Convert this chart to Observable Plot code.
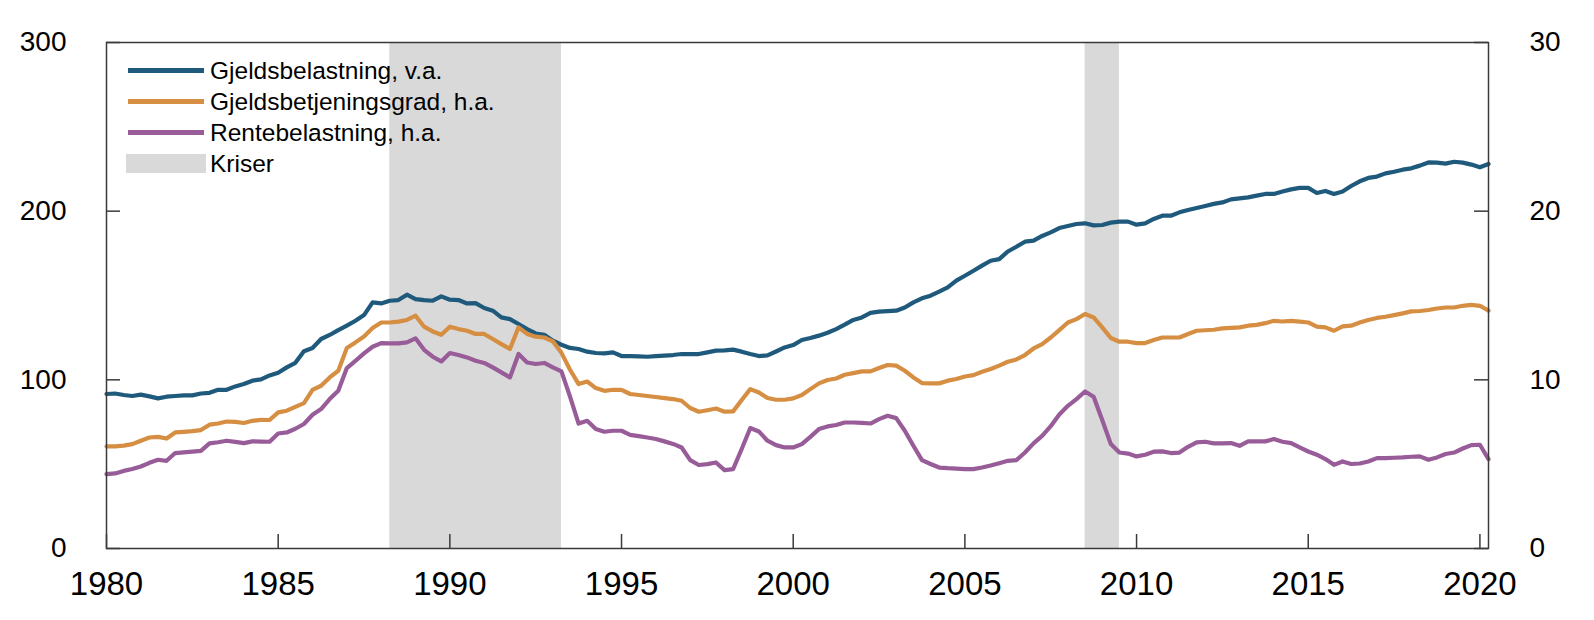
<!DOCTYPE html>
<html>
<head>
<meta charset="utf-8">
<script src="https://cdn.jsdelivr.net/npm/d3@7"></script>
<script src="https://cdn.jsdelivr.net/npm/@observablehq/plot@0.6"></script>
<style>
  html, body { margin: 0; padding: 0; background: #fff; overflow: hidden; }
  #wrap { position: relative; width: 1594px; height: 620px; overflow: hidden; font-family: "Liberation Sans", Arial, Helvetica, sans-serif; }
  #chart svg { display: block; max-width: none !important; width: 1594px; height: 620px; }
  #legend { position: absolute; left: 126px; top: 55px; color: #000; font-size: 24.5px; }
  .row { display: flex; align-items: center; height: 31px; }
  .sw { width: 80px; display: flex; align-items: center; justify-content: center; }
  .ln { width: 76px; height: 4.5px; }
  .bx { width: 80px; height: 19px; background: #d9d9d9; }
  .lab { margin-left: 4px; white-space: nowrap; }
</style>
</head>
<body>
<div id="wrap">
  <div id="chart"></div>
  <div id="legend"></div>
</div>
<script>
// ---- data ----
const years = [1980,1981,1982,1983,1984,1985,1986,1987,1988,1989,1990,1991,1992,1993,1994,1995,1996,1997,1998,1999,2000,2001,2002,2003,2004,2005,2006,2007,2008,2009,2010,2011,2012,2013,2014,2015,2016,2017,2018,2019,2020];
const quarterOffsets = [0, 0.25, 0.5, 0.75];

// Gjeldsbelastning (v.a., prosent), kvartalsvis 1980K1-2020K2
const gjeldsbelastning = [
  91.6, 91.9, 91.0, 90.4,
  91.2, 90.2, 89.0, 90.0,
  90.4, 90.8, 90.8, 91.9,
  92.3, 94.1, 94.1, 96.1,
  97.5, 99.5, 100.3, 102.6,
  104.2, 107.4, 110.1, 117.0,
  118.9, 124.2, 126.6, 129.5,
  132.1, 135.0, 138.4, 145.9,
  145.3, 146.9, 147.3, 150.5,
  147.9, 147.3, 146.9, 149.5,
  147.5, 147.3, 145.3, 145.5,
  142.6, 141.0, 137.0, 136.0,
  133.1, 130.1, 127.5, 126.7,
  123.2, 120.8, 118.9, 118.3,
  116.7, 115.9, 115.7, 116.3,
  114.1, 114.0, 113.9, 113.7,
  114.0, 114.3, 114.7, 115.3,
  115.3, 115.3, 116.3, 117.3,
  117.5, 117.9, 116.7, 115.3,
  114.1, 114.5, 116.8, 119.2,
  120.6, 123.6, 124.8, 126.2,
  127.9, 130.1, 132.7, 135.5,
  137.0, 139.7, 140.4, 140.7,
  141.0, 142.9, 145.9, 148.3,
  149.9, 152.3, 154.8, 158.8,
  161.7, 164.7, 167.7, 170.6,
  171.6, 176.1, 178.9, 181.9,
  182.5, 185.3, 187.4, 190.0,
  191.2, 192.4, 192.8, 191.6,
  191.8, 193.2, 193.8, 193.8,
  192.0, 192.8, 195.4, 197.3,
  197.3, 199.3, 200.7, 201.9,
  203.1, 204.3, 205.2, 207.0,
  207.6, 208.2, 209.2, 210.2,
  210.2, 211.7, 212.9, 213.8,
  213.8, 210.8, 212.0, 210.2,
  211.7, 214.9, 217.7, 219.7,
  220.5, 222.4, 223.4, 224.6,
  225.4, 227.0, 228.9, 228.8,
  228.2, 229.3, 228.8, 227.6,
  226.0, 228.0
];

// Gjeldsbetjeningsgrad (h.a., prosent)
const gjeldsbetjeningsgrad = [
  6.05, 6.05, 6.10, 6.19,
  6.39, 6.58, 6.62, 6.52,
  6.88, 6.92, 6.96, 7.02,
  7.34, 7.41, 7.53, 7.51,
  7.44, 7.57, 7.63, 7.62,
  8.07, 8.17, 8.40, 8.62,
  9.41, 9.65, 10.14, 10.54,
  11.89, 12.22, 12.57, 13.07,
  13.40, 13.40, 13.45, 13.55,
  13.80, 13.15, 12.87, 12.67,
  13.15, 13.01, 12.91, 12.72,
  12.72, 12.42, 12.12, 11.83,
  13.11, 12.72, 12.56, 12.51,
  12.28, 11.60, 10.60, 9.75,
  9.90, 9.51, 9.35, 9.41,
  9.41, 9.16, 9.10, 9.04,
  8.98, 8.92, 8.86, 8.76,
  8.33, 8.11, 8.20, 8.30,
  8.11, 8.13, 8.80, 9.45,
  9.25, 8.92, 8.82, 8.82,
  8.90, 9.10, 9.45, 9.79,
  9.99, 10.08, 10.30, 10.40,
  10.50, 10.50, 10.70, 10.88,
  10.84, 10.54, 10.14, 9.81,
  9.79, 9.79, 9.95, 10.05,
  10.20, 10.28, 10.48, 10.64,
  10.84, 11.07, 11.21, 11.47,
  11.86, 12.12, 12.51, 12.95,
  13.40, 13.60, 13.90, 13.70,
  13.11, 12.48, 12.26, 12.26,
  12.18, 12.18, 12.36, 12.51,
  12.51, 12.51, 12.72, 12.91,
  12.94, 12.97, 13.05, 13.08,
  13.11, 13.21, 13.26, 13.36,
  13.50, 13.46, 13.50, 13.45,
  13.40, 13.15, 13.11, 12.91,
  13.17, 13.21, 13.40, 13.55,
  13.67, 13.74, 13.84, 13.94,
  14.06, 14.08, 14.14, 14.23,
  14.29, 14.29, 14.39, 14.44,
  14.39, 14.10
];

// Rentebelastning (h.a., prosent)
const rentebelastning = [
  4.41, 4.45, 4.60, 4.71,
  4.86, 5.08, 5.26, 5.20,
  5.66, 5.70, 5.74, 5.79,
  6.23, 6.30, 6.39, 6.32,
  6.25, 6.35, 6.34, 6.33,
  6.82, 6.88, 7.10, 7.38,
  7.93, 8.27, 8.86, 9.35,
  10.70, 11.13, 11.57, 11.96,
  12.18, 12.16, 12.16, 12.22,
  12.46, 11.78, 11.37, 11.09,
  11.59, 11.47, 11.33, 11.13,
  11.00, 10.74, 10.44, 10.14,
  11.53, 11.03, 10.94, 11.00,
  10.74, 10.50, 9.00, 7.41,
  7.57, 7.08, 6.92, 6.98,
  6.98, 6.74, 6.66, 6.58,
  6.49, 6.35, 6.20, 5.99,
  5.24, 4.95, 5.00, 5.10,
  4.65, 4.71, 5.90, 7.14,
  6.94, 6.39, 6.13, 5.99,
  5.99, 6.19, 6.62, 7.08,
  7.24, 7.32, 7.47, 7.47,
  7.45, 7.41, 7.67, 7.87,
  7.73, 6.98, 6.09, 5.24,
  5.01, 4.80, 4.76, 4.74,
  4.71, 4.71, 4.80, 4.92,
  5.06, 5.20, 5.24, 5.69,
  6.23, 6.68, 7.25, 7.95,
  8.46, 8.86, 9.31, 9.00,
  7.62, 6.19, 5.69, 5.63,
  5.46, 5.56, 5.74, 5.76,
  5.66, 5.69, 6.03, 6.29,
  6.33, 6.23, 6.23, 6.25,
  6.09, 6.35, 6.35, 6.35,
  6.49, 6.33, 6.25, 5.99,
  5.75, 5.56, 5.30, 4.96,
  5.16, 5.01, 5.04, 5.16,
  5.36, 5.36, 5.38, 5.40,
  5.44, 5.46, 5.26, 5.40,
  5.60, 5.69, 5.93, 6.13,
  6.15, 5.30
];

const kriseStart = [1988.25, 2008.5];
const kriseSlutt = [1993.25, 2009.5];

const leftTicks = [0, 100, 200, 300];
const rightTicks = [0, 10, 20, 30];
const xTicks = [1980, 1985, 1990, 1995, 2000, 2005, 2010, 2015, 2020];

const seriesNames = ["Gjeldsbelastning, v.a.", "Gjeldsbetjeningsgrad, h.a.", "Rentebelastning, h.a."];
const seriesColors = ["#1f5a7c", "#d68e42", "#985c98"];
const kriseLabel = "Kriser";
const kriseColor = "#d9d9d9";

// ---- build tables ----
const dates = years.flatMap(y => quarterOffsets.map(q => y + q)).slice(0, gjeldsbelastning.length);
const rightFactor = 10; // h.a. 0-30 maps onto v.a. 0-300
const mk = (vals, k) => vals.map((v, i) => ({date: dates[i], value: v * k}));
const s1 = mk(gjeldsbelastning, 1);
const s2 = mk(gjeldsbetjeningsgrad, rightFactor);
const s3 = mk(rentebelastning, rightFactor);
const kriser = kriseStart.map((s, i) => ({start: s, end: kriseSlutt[i]}));

const W = 1594, H = 620, mL = 106, mR = 106, mT = 42, mB = 72;
const innerW = W - mL - mR, innerH = H - mT - mB;
const tickLen = 14;
const axisColor = "#3a3a3a";

const chart = Plot.plot({
  width: W, height: H,
  marginLeft: mL, marginRight: mR, marginTop: mT, marginBottom: mB,
  style: {fontFamily: '"Liberation Sans", Arial, Helvetica, sans-serif', fontSize: "28px", color: "#000", background: "#fff"},
  x: {domain: [dates[0], dates[dates.length - 1]]},
  y: {domain: [leftTicks[0], leftTicks[leftTicks.length - 1]]},
  marks: [
    Plot.rect(kriser, {x1: "start", x2: "end", y1: leftTicks[0], y2: leftTicks[leftTicks.length - 1], fill: kriseColor}),
    Plot.line(s1, {x: "date", y: "value", stroke: seriesColors[0], strokeWidth: 4.2, strokeLinejoin: "round"}),
    Plot.line(s2, {x: "date", y: "value", stroke: seriesColors[1], strokeWidth: 4.2, strokeLinejoin: "round"}),
    Plot.line(s3, {x: "date", y: "value", stroke: seriesColors[2], strokeWidth: 4.2, strokeLinejoin: "round"}),
    Plot.frame({stroke: axisColor, strokeWidth: 1.5}),
    // inward ticks
    Plot.ruleY(leftTicks, {stroke: axisColor, strokeWidth: 1.5, insetRight: innerW - tickLen}),
    Plot.ruleY(leftTicks, {stroke: axisColor, strokeWidth: 1.5, insetLeft: innerW - tickLen}),
    Plot.ruleX(xTicks, {stroke: axisColor, strokeWidth: 1.5, insetTop: innerH - tickLen}),
    Plot.axisY({anchor: "left", ticks: leftTicks, tickSize: 0, tickPadding: 40, label: null, fontSize: 28, tickFormat: d3.format("d")}),
    Plot.axisY({anchor: "right", ticks: leftTicks, tickSize: 0, tickPadding: 41, label: null, fontSize: 28, tickFormat: d => String(rightTicks[leftTicks.indexOf(d)])}),
    Plot.axisX({anchor: "bottom", ticks: xTicks, tickSize: 0, tickPadding: 23, label: null, fontSize: 33, tickFormat: d3.format("d")})
  ]
});
document.getElementById("chart").appendChild(chart);

// ---- legend ----
const legend = document.getElementById("legend");
seriesNames.forEach((name, i) => {
  const row = document.createElement("div");
  row.className = "row";
  row.innerHTML = `<span class="sw"><span class="ln" style="background:${seriesColors[i]}"></span></span><span class="lab">${name}</span>`;
  legend.appendChild(row);
});
const krow = document.createElement("div");
krow.className = "row";
krow.innerHTML = `<span class="bx"></span><span class="lab">${kriseLabel}</span>`;
legend.appendChild(krow);
</script>
</body>
</html>
